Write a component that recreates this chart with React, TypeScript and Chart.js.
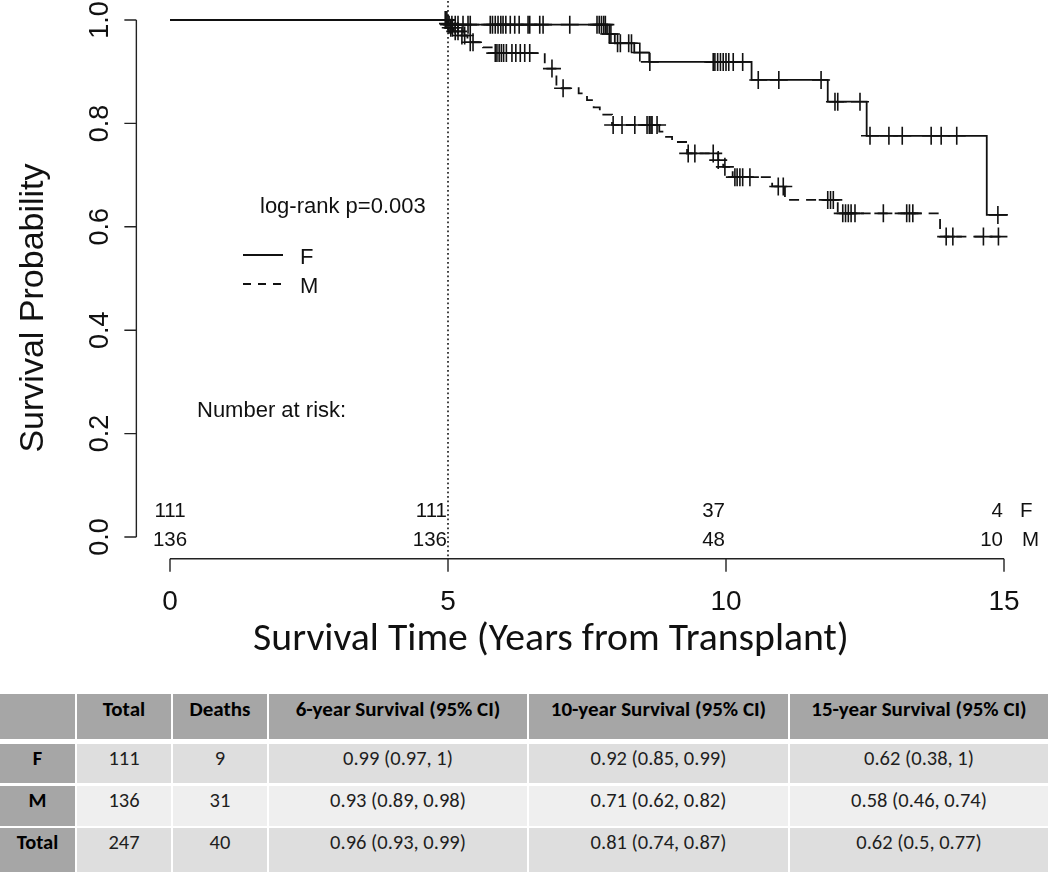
import React, { useEffect, useRef } from "react";
import { Chart, registerables } from "chart.js";

Chart.register(...registerables);

// ---------- data ----------
const fTimes = [0, 5.0, 7.86, 8.0, 8.35, 8.62, 10.46, 11.83, 12.53, 14.69, 15.07];
const fSurv = [1, 0.991, 0.973, 0.955, 0.937, 0.919, 0.884, 0.842, 0.776, 0.623, 0.623];

const mTimes = [0, 4.97, 5.03, 5.1, 5.22, 5.35, 5.63, 5.81, 6.74, 6.95, 7.35, 7.5, 7.62, 7.73, 7.95, 8.8, 8.9, 9.03, 9.3, 9.86, 9.95, 10.12, 10.83, 11.06, 12.01, 13.85, 15.05];
const mSurv = [1, 0.993, 0.985, 0.978, 0.97, 0.957, 0.947, 0.936, 0.906, 0.868, 0.858, 0.845, 0.831, 0.817, 0.797, 0.784, 0.774, 0.764, 0.742, 0.729, 0.716, 0.696, 0.678, 0.652, 0.626, 0.581, 0.581];

const fCensor = [4.95, 4.98, 5.02, 5.07, 5.13, 5.18, 5.27, 5.36, 5.4, 5.76, 5.8, 5.85, 5.9, 5.95, 5.99, 6.04, 6.12, 6.2, 6.28, 6.44, 6.47, 6.65, 6.71, 7.19, 7.68, 7.72, 7.76, 7.8, 7.83, 7.9, 7.93, 8.05, 8.1, 8.25, 8.3, 8.45, 8.63, 9.77, 9.8, 9.85, 9.9, 9.95, 10.0, 10.05, 10.13, 10.3, 10.58, 10.95, 11.71, 11.96, 12.01, 12.41, 12.59, 12.93, 13.17, 13.69, 13.87, 14.15, 14.89];
const mCensor = [4.96, 5.0, 5.05, 5.08, 5.13, 5.18, 5.25, 5.3, 5.4, 5.45, 5.85, 5.88, 5.92, 5.96, 6.0, 6.05, 6.15, 6.22, 6.3, 6.38, 6.47, 6.87, 7.07, 7.97, 8.13, 8.36, 8.58, 8.62, 8.65, 8.67, 8.76, 9.32, 9.44, 9.77, 9.86, 9.98, 10.16, 10.2, 10.25, 10.3, 10.43, 10.94, 11.03, 11.83, 11.88, 11.93, 12.1, 12.15, 12.2, 12.25, 12.32, 12.83, 13.25, 13.3, 13.36, 13.96, 14.08, 14.63, 14.9];

const xTicks = [0, 5, 10, 15];
const yTicks = [0, 0.2, 0.4, 0.6, 0.8, 1.0];
const yTickLabels = ["0.0", "0.2", "0.4", "0.6", "0.8", "1.0"];
const landmarkTime = 5;

const riskTimes = [0, 5, 10, 15];
const riskF = [111, 111, 37, 4];
const riskM = [136, 136, 48, 10];
const groupLabels = ["F", "M"];

const pValueText = "log-rank p=0.003";
const riskTitle = "Number at risk:";
const xTitle = "Survival Time (Years from Transplant)";
const yTitle = "Survival Probability";

const tableHeader = ["", "Total", "Deaths", "6-year Survival (95% CI)", "10-year Survival (95% CI)", "15-year Survival (95% CI)"];
const tableRowLabels = ["F", "M", "Total"];
const tableTotals = ["111", "136", "247"];
const tableDeaths = ["9", "31", "40"];
const tableSurv6 = ["0.99 (0.97, 1)", "0.93 (0.89, 0.98)", "0.96 (0.93, 0.99)"];
const tableSurv10 = ["0.92 (0.85, 0.99)", "0.71 (0.62, 0.82)", "0.81 (0.74, 0.87)"];
const tableSurv15 = ["0.62 (0.38, 1)", "0.58 (0.46, 0.74)", "0.62 (0.5, 0.77)"];

// ---------- helpers ----------
function survAt(times: number[], surv: number[], t: number) {
  let s = surv[0];
  for (let i = 0; i < times.length; i++) if (times[i] <= t) s = surv[i];
  return s;
}

const ARIAL = '"Liberation Sans", Arial, sans-serif';
const CAL = 'Carlito, Calibri, Lato, "Open Sans", sans-serif';
const INK = "#111";

const decorPlugin = {
  id: "kmDecor",
  beforeDatasetsDraw(chart: any) {
    const { ctx, scales } = chart;
    const x = scales.x, y = scales.y;
    ctx.save();
    const px = x.getPixelForValue(landmarkTime);
    ctx.strokeStyle = "#222";
    ctx.lineWidth = 1.7;
    ctx.setLineDash([1.7, 2.8]);
    ctx.beginPath();
    ctx.moveTo(px, 1);
    ctx.lineTo(px, y.getPixelForValue(-0.042));
    ctx.stroke();
    ctx.restore();
  },
  afterDraw(chart: any) {
    const { ctx, scales } = chart;
    const x = scales.x, y = scales.y;
    ctx.save();
    ctx.strokeStyle = "#222";
    ctx.fillStyle = INK;
    ctx.lineWidth = 1.4;
    ctx.setLineDash([]);

    // y axis
    const ax = x.getPixelForValue(-0.605);
    ctx.beginPath();
    ctx.moveTo(ax, y.getPixelForValue(0));
    ctx.lineTo(ax, y.getPixelForValue(1));
    yTicks.forEach((v) => {
      const py = y.getPixelForValue(v);
      ctx.moveTo(ax, py);
      ctx.lineTo(ax - 12, py);
    });
    ctx.stroke();
    ctx.font = `27px ${ARIAL}`;
    ctx.textAlign = "center";
    ctx.textBaseline = "alphabetic";
    yTicks.forEach((v, i) => {
      const py = y.getPixelForValue(v);
      ctx.save();
      ctx.translate(ax - 28.5, py);
      ctx.rotate(-Math.PI / 2);
      ctx.fillText(yTickLabels[i], 0, 0);
      ctx.restore();
    });

    // x axis
    const ay = y.getPixelForValue(-0.042);
    ctx.beginPath();
    ctx.moveTo(x.getPixelForValue(xTicks[0]), ay);
    ctx.lineTo(x.getPixelForValue(xTicks[xTicks.length - 1]), ay);
    xTicks.forEach((v) => {
      const p = x.getPixelForValue(v);
      ctx.moveTo(p, ay);
      ctx.lineTo(p, ay + 13);
    });
    ctx.stroke();
    ctx.font = `28px ${ARIAL}`;
    ctx.textAlign = "center";
    xTicks.forEach((v) => {
      ctx.fillText(String(v), x.getPixelForValue(v), ay + 51);
    });

    // axis titles
    ctx.font = `30px ${CAL}`;
    const w = ctx.measureText(xTitle).width;
    const fs = (30 * 596) / w;
    ctx.font = `${fs}px ${CAL}`;
    ctx.fillText(xTitle, 551, 650);

    ctx.save();
    ctx.font = `34px ${ARIAL}`;
    ctx.translate(43, 308);
    ctx.rotate(-Math.PI / 2);
    ctx.fillText(yTitle, 0, 0);
    ctx.restore();

    // legend & annotations
    ctx.textAlign = "left";
    ctx.textBaseline = "middle";
    ctx.font = `22px ${ARIAL}`;
    ctx.fillText(pValueText, 260, 207);
    ctx.fillText(riskTitle, 197, 411);
    ctx.fillText(groupLabels[0], 300, 258);
    ctx.fillText(groupLabels[1], 300, 287);
    ctx.lineWidth = 1.8;
    ctx.strokeStyle = INK;
    ctx.beginPath();
    ctx.moveTo(243, 255);
    ctx.lineTo(283, 255);
    ctx.stroke();
    ctx.setLineDash([8, 7]);
    ctx.beginPath();
    ctx.moveTo(243, 284);
    ctx.lineTo(283, 284);
    ctx.stroke();
    ctx.setLineDash([]);

    // risk table
    const b = y.getPixelForValue(0);
    ctx.font = `20.5px ${ARIAL}`;
    riskTimes.forEach((t, i) => {
      const p = x.getPixelForValue(t);
      ctx.textAlign = i === 0 ? "center" : "right";
      const off = i === 0 ? 0 : -1;
      ctx.fillText(String(riskF[i]), p + off, b - 26);
      ctx.fillText(String(riskM[i]), p + off, b + 3);
    });
    ctx.textAlign = "left";
    ctx.fillText(groupLabels[0], 1020, b - 26);
    ctx.fillText(groupLabels[1], 1022, b + 3);
    ctx.restore();
  },
};

function KMChart() {
  const ref = useRef<HTMLCanvasElement | null>(null);
  useEffect(() => {
    if (!ref.current) return;
    const fLine = fTimes.map((t, i) => ({ x: t, y: fSurv[i] }));
    const mLine = mTimes.map((t, i) => ({ x: t, y: mSurv[i] }));
    const fMarks = fCensor.map((t) => ({ x: t, y: survAt(fTimes, fSurv, t) }));
    const mMarks = mCensor.map((t) => ({ x: t, y: survAt(mTimes, mSurv, t) }));
    const perYear = 55.6;
    const xMax = 15.2;
    const chart = new Chart(ref.current, {
      type: "line",
      data: {
        datasets: [
          { label: "F", data: fLine, stepped: "before", borderColor: INK, borderWidth: 1.8, pointRadius: 0, fill: false, clip: false } as any,
          { label: "M", data: mLine, stepped: "before", borderColor: INK, borderWidth: 1.8, borderDash: [10, 7], pointRadius: 0, fill: false, clip: false } as any,
          { label: "F censored", data: fMarks, showLine: false, pointStyle: "cross", pointRadius: 9, pointBorderWidth: 1.6, borderColor: INK, pointBorderColor: INK, clip: false } as any,
          { label: "M censored", data: mMarks, showLine: false, pointStyle: "cross", pointRadius: 9, pointBorderWidth: 1.6, borderColor: INK, pointBorderColor: INK, clip: false } as any,
        ],
      },
      options: {
        animation: false,
        responsive: false,
        devicePixelRatio: 1,
        events: [],
        layout: { padding: { left: 170, right: 1050 - (170 + xMax * perYear), top: 20, bottom: 690 - 537 } },
        scales: {
          x: { type: "linear", min: 0, max: xMax, display: false },
          y: { type: "linear", min: 0, max: 1, display: false },
        },
        plugins: { legend: { display: false }, tooltip: { enabled: false } },
      },
      plugins: [decorPlugin],
    });
    return () => chart.destroy();
  }, []);
  return <canvas ref={ref} width={1050} height={690} style={{ display: "block", width: 1050, height: 690 }} />;
}

function SummaryTable() {
  const colW = [75, 94, 94, 258, 259, 258];
  const rowH = [45, 39, 40, 46];
  const rowGap = [5, 3, 2];
  const bodyBg = ["#dedede", "#efefef", "#dedede"];
  const rows = tableRowLabels.map((lab, i) => [lab, tableTotals[i], tableDeaths[i], tableSurv6[i], tableSurv10[i], tableSurv15[i]]);
  const all = [tableHeader, ...rows];
  return (
    <div style={{ position: "absolute", left: 0, top: 694, width: 1050, fontFamily: CAL }}>
      {all.map((r, ri) => (
        <div key={ri} style={{ display: "flex", gap: 2, height: rowH[ri], marginBottom: ri < 3 ? rowGap[ri] : 0 }}>
          {r.map((c, ci) => {
            const header = ri === 0;
            const firstCol = ci === 0;
            const bg = header || firstCol ? "#a6a6a6" : bodyBg[ri - 1];
            return (
              <div
                key={ci}
                style={{
                  width: colW[ci],
                  flex: "none",
                  background: bg,
                  textAlign: "center",
                  lineHeight: header ? "30px" : "28px",
                  fontSize: header ? 21 : 20.5,
                  fontWeight: header || firstCol ? 700 : 400,
                  color: header || firstCol ? "#000" : "#1e1e1e",
                  whiteSpace: "nowrap",
                  overflow: "hidden",
                }}
              >
                {c}
              </div>
            );
          })}
        </div>
      ))}
    </div>
  );
}

export default function App() {
  useEffect(() => {
    document.body.style.margin = "0";
    document.body.style.background = "#fff";
  }, []);
  return (
    <div style={{ position: "relative", width: 1050, height: 872, overflow: "hidden", background: "#fff" }}>
      <KMChart />
      <SummaryTable />
    </div>
  );
}
